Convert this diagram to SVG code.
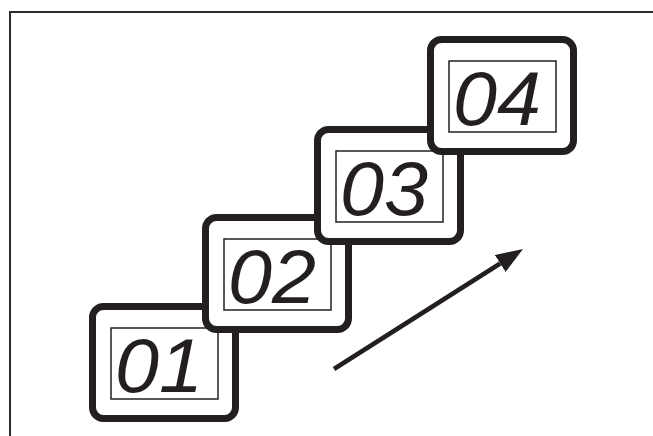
<svg xmlns="http://www.w3.org/2000/svg" width="653" height="436" viewBox="0 0 653 436">
  <style>
    .frame { fill: none; stroke: #2b2b2b; stroke-width: 2; }
    .outer { fill: #ffffff; stroke: #231f20; stroke-width: 7; }
    .inner { fill: #ffffff; stroke: #231f20; stroke-width: 1.5; }
    .digits { font-family: "Liberation Sans", Arial, sans-serif; font-style: italic; font-size: 76px; fill: #231f20; }
    .arrow { fill: none; stroke: #231f20; stroke-width: 4.5; }
  </style>
  <defs>
    <marker id="head" markerUnits="userSpaceOnUse" markerWidth="28" markerHeight="20" refX="0" refY="10" orient="auto" viewBox="0 0 28 20">
      <path d="M0,0 L27,10 L0,20 Z" fill="#231f20"/>
    </marker>
  </defs>
  <rect width="653" height="436" fill="#ffffff"/>
  <path class="frame" d="M10,436 V12 H653"/>

  <g id="display-01" transform="translate(89,303)">
    <rect class="outer" x="3.5" y="3.5" width="143" height="112" rx="11"/>
    <rect class="inner" x="22" y="25" width="107" height="71"/>
    <text class="digits" x="26" y="89" textLength="88" lengthAdjust="spacingAndGlyphs">01</text>
  </g>
  <g id="display-02" transform="translate(202,214)">
    <rect class="outer" x="3.5" y="3.5" width="143" height="112" rx="11"/>
    <rect class="inner" x="22" y="25" width="107" height="71"/>
    <text class="digits" x="26" y="89" textLength="88" lengthAdjust="spacingAndGlyphs">02</text>
  </g>
  <g id="display-03" transform="translate(314,126)">
    <rect class="outer" x="3.5" y="3.5" width="143" height="112" rx="11"/>
    <rect class="inner" x="22" y="25" width="107" height="71"/>
    <text class="digits" x="26" y="89" textLength="88" lengthAdjust="spacingAndGlyphs">03</text>
  </g>
  <g id="display-04" transform="translate(427,36)">
    <rect class="outer" x="3.5" y="3.5" width="143" height="112" rx="11"/>
    <rect class="inner" x="22" y="25" width="107" height="71"/>
    <text class="digits" x="26" y="89" textLength="88" lengthAdjust="spacingAndGlyphs">04</text>
  </g>

  <g id="connectors">
    <path class="arrow" d="M334,369 L500.2,263.5" marker-end="url(#head)"/>
  </g>
</svg>
